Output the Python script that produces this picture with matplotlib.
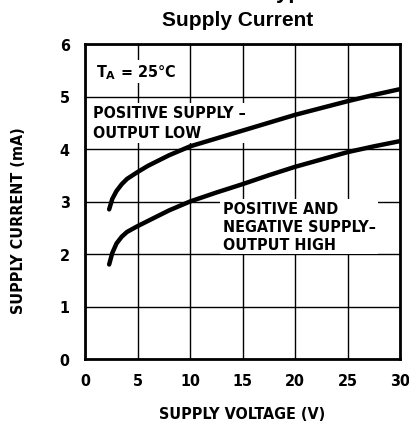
import matplotlib
matplotlib.use("Agg")
import matplotlib.pyplot as plt

volts_low = [2.3, 2.6, 3.0, 3.5, 4.0, 5, 6, 8, 10, 12.5, 15, 17.5, 20, 22.5, 25, 27.5, 30]
curr_low = [2.85, 3.05, 3.2, 3.33, 3.43, 3.56, 3.68, 3.88, 4.05, 4.2, 4.35, 4.5, 4.65, 4.78, 4.91, 5.03, 5.14]
volts_high = [2.3, 2.6, 3.0, 3.5, 4.0, 5, 6, 8, 10, 12.5, 15, 17.5, 20, 22.5, 25, 27.5, 30]
curr_high = [1.8, 2.02, 2.2, 2.33, 2.42, 2.53, 2.63, 2.83, 3.0, 3.17, 3.33, 3.5, 3.66, 3.8, 3.94, 4.05, 4.15]
x_ticks = [0, 5, 10, 15, 20, 25, 30]
y_ticks = [0, 1, 2, 3, 4, 5, 6]

FONT = dict(family="DejaVu Sans", fontstretch="condensed", fontweight="bold")
FS = 11.5

fig = plt.figure(figsize=(4.09, 4.27), dpi=100)
ax = fig.add_axes([85 / 409, 67 / 427, 315 / 409, 315 / 427])

ax.plot(volts_low, curr_low, color="black", lw=3.2, solid_capstyle="round", zorder=3)
ax.plot(volts_high, curr_high, color="black", lw=3.2, solid_capstyle="round", zorder=3)

ax.set_xlim(0, 30)
ax.set_ylim(0, 6)
ax.set_xticks(x_ticks)
ax.set_yticks(y_ticks)
ax.set_xticklabels([str(v) for v in x_ticks], fontsize=FS, **FONT)
ax.set_yticklabels([str(v) for v in y_ticks], fontsize=FS, **FONT)
ax.tick_params(axis="x", length=0, pad=10)
ax.tick_params(axis="y", length=0, pad=11)
ax.grid(True, color="black", lw=1.0)
for s in ax.spines.values():
    s.set_linewidth(2.0)

ax.set_xlabel("SUPPLY VOLTAGE (V)", fontsize=FS, labelpad=13, **FONT)
ax.set_ylabel("SUPPLY CURRENT (mA)", fontsize=FS, **FONT)
ax.yaxis.set_label_coords(-0.186, 0.444)

# white boxes hide the grid behind the labels but stay under the curves
box = dict(facecolor="white", edgecolor="none", pad=1.5)
ax.text(1.0, 5.47, "T$_\\mathbf{A}$ = 25°C", fontsize=FS, va="center", bbox=box,
        zorder=2, **FONT)
ax.text(0.8, 4.5, "POSITIVE SUPPLY –\nOUTPUT LOW", fontsize=FS, va="center",
        linespacing=1.45, bbox=box, zorder=2, **FONT)
ax.text(13.1, 2.53, "POSITIVE AND\nNEGATIVE SUPPLY–\nOUTPUT HIGH", fontsize=FS, va="center",
        linespacing=1.25, bbox=box, zorder=2, **FONT)

fig.text(238 / 409, 1 - 20 / 427, "Supply Current", ha="center", va="center",
         fontsize=15, family="Liberation Sans", fontweight="bold")
# page heading, only its descenders show above the figure edge
fig.text(264 / 409, 1 + 2.5 / 427, "Typical Performance Characteristics", ha="left",
         va="baseline", fontsize=16, family="Liberation Sans", fontweight="bold")

fig.savefig("out.png", dpi=100)
